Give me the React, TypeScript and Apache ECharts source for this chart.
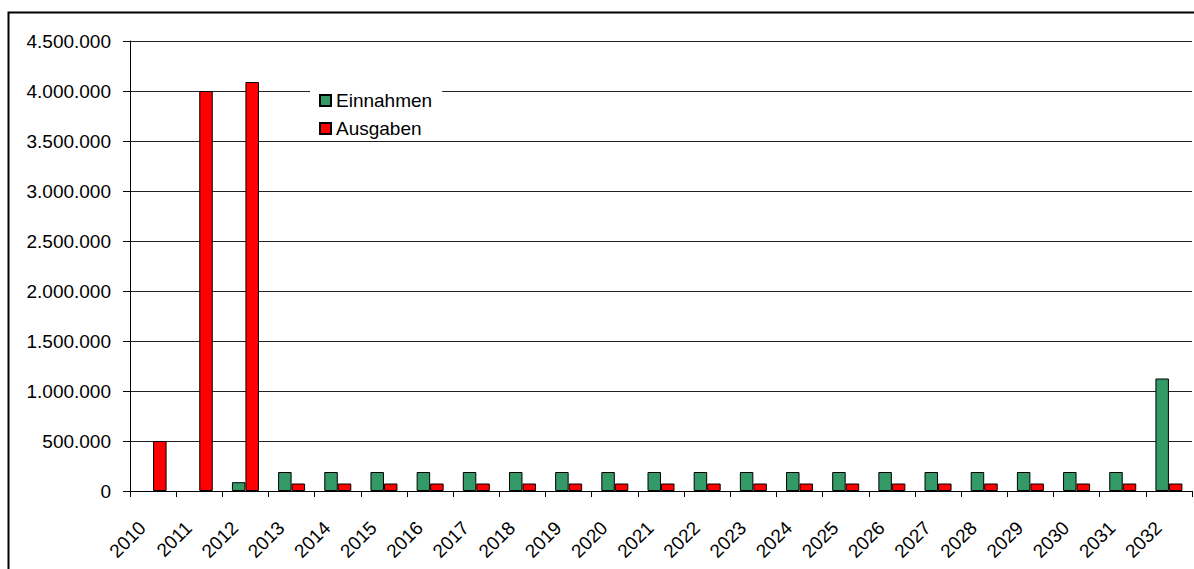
import React, { useEffect, useRef } from "react";
import * as echarts from "echarts";

const years = [
  "2010", "2011", "2012", "2013", "2014", "2015", "2016", "2017", "2018", "2019", "2020", "2021",
  "2022", "2023", "2024", "2025", "2026", "2027", "2028", "2029", "2030", "2031", "2032",
];
const einnahmen = [
  0, 0, 88000, 190000, 190000, 190000, 190000, 190000, 190000, 190000, 190000, 190000,
  190000, 190000, 190000, 190000, 190000, 190000, 190000, 190000, 190000, 190000, 1125000,
];
const ausgaben = [
  500000, 4000000, 4090000, 75000, 75000, 75000, 75000, 75000, 75000, 75000, 75000, 75000,
  75000, 75000, 75000, 75000, 75000, 75000, 75000, 75000, 75000, 75000, 75000,
];
const seriesNames = ["Einnahmen", "Ausgaben"];

const FONT = "Liberation Sans, Arial, sans-serif";
const FS = 19;

function fmt(v: number): string {
  return String(Math.round(v)).replace(/\B(?=(\d{3})+(?!\d))/g, ".");
}
const noZero = (arr: number[]) => arr.map((v) => (v === 0 ? "-" : v));

export default function App() {
  const ref = useRef<HTMLDivElement>(null);
  useEffect(() => {
    if (!ref.current) return;
    const chart = echarts.init(ref.current, undefined, { renderer: "svg" });
    chart.setOption({
      animation: false,
      backgroundColor: "#ffffff",
      textStyle: { fontFamily: FONT },
      grid: { left: 130, right: 2, top: 41, bottom: 78, containLabel: false },
      legend: {
        orient: "vertical",
        left: 310,
        top: 86,
        backgroundColor: "#ffffff",
        padding: [5, 10, 1, 9],
        itemWidth: 11,
        itemHeight: 11,
        itemGap: 9,
        icon: "rect",
        textStyle: { fontFamily: FONT, fontSize: FS, color: "#000", lineHeight: 18 },
        data: seriesNames,
      },
      xAxis: {
        type: "category",
        data: years,
        boundaryGap: true,
        axisLine: { lineStyle: { color: "#000", width: 1 } },
        axisTick: { show: true, interval: 0, length: 6, lineStyle: { color: "#000" } },
        axisLabel: {
          interval: 0,
          rotate: 45,
          margin: 23,
          padding: [0, 15, 0, 0],
          fontFamily: FONT,
          fontSize: FS,
          color: "#000",
        },
      },
      yAxis: {
        type: "value",
        min: 0,
        max: 4500000,
        interval: 500000,
        axisLine: { show: true, lineStyle: { color: "#000", width: 1 } },
        axisTick: { show: true, length: 7, lineStyle: { color: "#000" } },
        axisLabel: {
          margin: 19,
          fontFamily: FONT,
          fontSize: FS,
          color: "#000",
          formatter: (v: number) => fmt(v),
        },
        splitLine: { show: true, lineStyle: { color: "#222", width: 1 } },
      },
      series: [
        {
          name: seriesNames[0],
          type: "bar",
          data: noZero(einnahmen),
          barWidth: 13.5,
          barGap: "0%",
          itemStyle: { color: "#339966", borderColor: "#000", borderWidth: 1 },
        },
        {
          name: seriesNames[1],
          type: "bar",
          data: noZero(ausgaben),
          barWidth: 13.5,
          barGap: "0%",
          itemStyle: { color: "#ff0000", borderColor: "#000", borderWidth: 1 },
        },
      ],
      graphic: [
        {
          type: "rect",
          left: 6,
          top: 10,
          shape: { x: 0, y: 0, width: 1300, height: 700 },
          style: { fill: "none", stroke: "#000", lineWidth: 2 },
          silent: true,
          z: 100,
        },
      ],
    });
    return () => chart.dispose();
  }, []);
  return (
    <div
      ref={ref}
      style={{ position: "absolute", left: 0, top: 0, width: 1194, height: 569 }}
    />
  );
}
